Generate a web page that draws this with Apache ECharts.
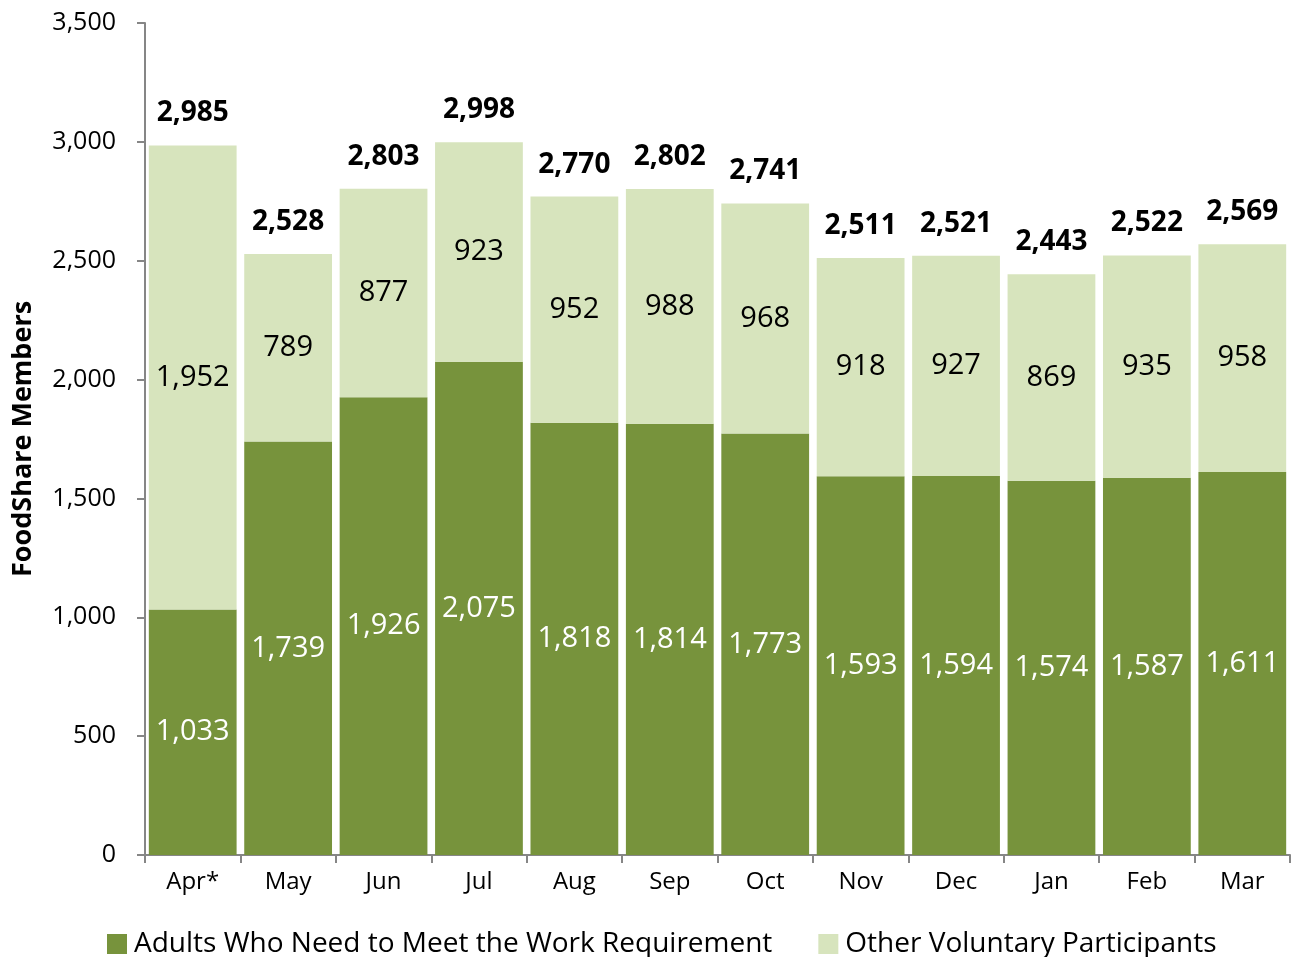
<!DOCTYPE html>
<html><head><meta charset="utf-8">
<script src="https://cdn.jsdelivr.net/npm/echarts@6/dist/echarts.min.js"></script>
<style>html,body{margin:0;padding:0;background:#fff}#c{width:1291px;height:957px}</style>
</head><body><div id="c"></div>
<script>
const categories = ['Apr*','May','Jun','Jul','Aug','Sep','Oct','Nov','Dec','Jan','Feb','Mar'];
const workReq = [1033,1739,1926,2075,1818,1814,1773,1593,1594,1574,1587,1611];
const voluntary = [1952,789,877,923,952,988,968,918,927,869,935,958];
const totals = [2985,2528,2803,2998,2770,2802,2741,2511,2521,2443,2522,2569];
const yTicks = [0,500,1000,1500,2000,2500,3000,3500];

const FONT = '"Open Sans", sans-serif';
const fmt = v => v.toLocaleString('en-US');
const chart = echarts.init(document.getElementById('c'));
chart.setOption({
  animation:false,
  textStyle:{fontFamily:FONT},
  grid:{left:145,right:1,top:23,bottom:102},
  legend:{
    bottom:-6, left:102, itemWidth:20, itemHeight:20, itemGap:46,
    icon:'rect',
    textStyle:{fontFamily:FONT,fontSize:28,color:'#000',padding:[0,0,0,2]},
    data:['Adults Who Need to Meet the Work Requirement','Other Voluntary Participants']
  },
  xAxis:{
    type:'category', data:categories,
    axisLine:{lineStyle:{color:'#868686',width:2}},
    axisTick:{show:true,length:8,lineStyle:{color:'#868686',width:2}},
    axisLabel:{fontFamily:FONT,fontSize:24,color:'#000',margin:15}
  },
  yAxis:{
    type:'value', min:yTicks[0], max:yTicks[yTicks.length-1], interval:500,
    name:'FoodShare Members', nameLocation:'middle', nameGap:108,
    nameTextStyle:{fontFamily:FONT,fontSize:27,fontWeight:'bold',color:'#000'},
    axisLine:{show:true,lineStyle:{color:'#868686',width:2}},
    axisTick:{show:true,length:8,lineStyle:{color:'#868686',width:2}},
    splitLine:{show:false},
    axisLabel:{fontFamily:FONT,fontSize:25,color:'#000',margin:29,formatter:v=>fmt(v)}
  },
  series:[
    {name:'Adults Who Need to Meet the Work Requirement',type:'bar',stack:'a',data:workReq,
     barCategoryGap:'8%',itemStyle:{color:'#77933C'},
     label:{show:true,position:'inside',color:'#fff',fontFamily:FONT,fontSize:29,formatter:p=>fmt(p.value)}},
    {name:'Other Voluntary Participants',type:'bar',stack:'a',data:voluntary,
     itemStyle:{color:'#D7E4BD'},
     label:{show:true,position:'inside',color:'#000',fontFamily:FONT,fontSize:29,formatter:p=>fmt(p.value)}},
    {name:'totals',type:'line',data:totals,symbol:'circle',symbolSize:2,showSymbol:true,
     itemStyle:{color:'rgba(0,0,0,0)'},lineStyle:{width:0,color:'rgba(0,0,0,0)'},silent:true,z:10,
     label:{show:true,position:'top',distance:17,color:'#000',fontFamily:FONT,fontSize:28,fontWeight:'bold',formatter:p=>fmt(p.value)}}
  ]
});
</script></body></html>
